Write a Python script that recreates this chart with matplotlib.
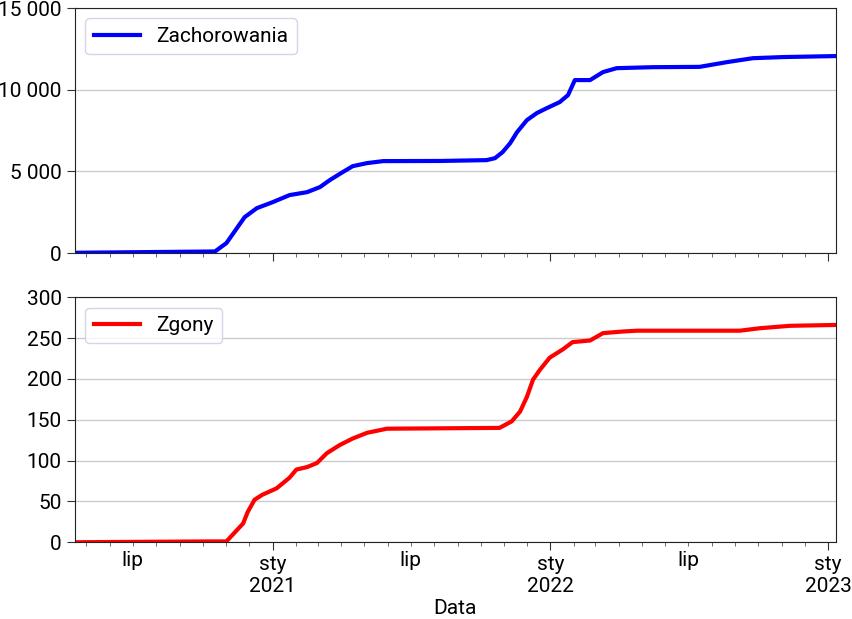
import pandas as pd
import matplotlib
matplotlib.use("Agg")
import matplotlib.pyplot as plt
import matplotlib.dates as mdates
from matplotlib.ticker import FuncFormatter

plt.rcParams['font.family'] = ['Roboto', 'DejaVu Sans']

# DATA (cumulative counts)
case_dates = [
    "2020-04-16", "2020-10-17", "2020-11-01", "2020-11-25", "2020-12-11",
    "2021-01-01", "2021-01-23", "2021-02-15", "2021-03-04", "2021-03-17",
    "2021-04-03", "2021-04-16", "2021-05-05", "2021-05-26", "2021-08-09",
    "2021-10-09", "2021-10-20", "2021-10-30", "2021-11-09", "2021-11-18",
    "2021-12-01", "2021-12-14", "2021-12-27", "2022-01-13", "2022-01-24",
    "2022-02-02", "2022-02-22", "2022-03-11", "2022-03-29", "2022-05-16",
    "2022-07-16", "2022-08-21", "2022-09-24", "2022-11-03", "2023-01-11",
]
cases = [
    20, 100, 610, 2200, 2750,
    3120, 3550, 3730, 4040, 4470,
    4960, 5320, 5510, 5630, 5640,
    5690, 5810, 6180, 6730, 7400,
    8140, 8570, 8870, 9240, 9670,
    10590, 10590, 11080, 11320, 11380,
    11400, 11690, 11930, 12000, 12060,
]

death_dates = [
    "2020-04-16", "2020-10-06", "2020-11-01", "2020-11-12", "2020-11-23",
    "2020-11-29", "2020-12-08", "2020-12-18", "2021-01-06", "2021-01-23",
    "2021-02-01", "2021-02-15", "2021-02-28", "2021-03-13", "2021-03-30",
    "2021-04-16", "2021-05-05", "2021-05-31", "2021-10-26", "2021-11-11",
    "2021-11-22", "2021-12-01", "2021-12-09", "2021-12-18", "2021-12-31",
    "2022-01-17", "2022-01-30", "2022-02-22", "2022-03-11", "2022-04-06",
    "2022-04-25", "2022-09-07", "2022-10-03", "2022-11-12", "2023-01-11",
]
deaths = [
    0, 1, 1, 12, 23,
    37, 52, 58, 66, 79,
    89, 92, 97, 109, 119,
    127, 134, 139, 140, 148,
    160, 178, 199, 211, 226,
    236, 245, 247, 256, 258,
    259, 259, 262, 265, 266,
]

case_dates = pd.to_datetime(case_dates)
death_dates = pd.to_datetime(death_dates)

pl_months = ["sty", "lut", "mar", "kwi", "maj", "cze",
             "lip", "sie", "wrz", "paź", "lis", "gru"]


def thousands(v, pos):
    return f"{int(v):,}".replace(",", " ")


def major_fmt(v, pos):
    d = mdates.num2date(v)
    return f"{pl_months[d.month - 1]}\n{d.year}"


def minor_fmt(v, pos):
    d = mdates.num2date(v)
    return pl_months[d.month - 1] if d.month == 7 else ""


fig, (ax1, ax2) = plt.subplots(2, 1, figsize=(8.52, 6.19), dpi=100, sharex=True)
fig.subplots_adjust(left=0.088, right=0.981, top=0.987, bottom=0.124, hspace=0.18)

ax1.plot(case_dates, cases, color="blue", linewidth=3, label="Zachorowania")
ax2.plot(death_dates, deaths, color="red", linewidth=3, label="Zgony")

ax1.set_ylim(0, 15000)
ax1.set_yticks([0, 5000, 10000, 15000])
ax1.yaxis.set_major_formatter(FuncFormatter(thousands))

ax2.set_ylim(0, 300)
ax2.set_yticks(range(0, 301, 50))

ax2.set_xlim(pd.Timestamp("2020-04-16"), pd.Timestamp("2023-01-11"))
ax2.xaxis.set_major_locator(mdates.YearLocator())
ax2.xaxis.set_minor_locator(mdates.MonthLocator())
ax2.xaxis.set_major_formatter(FuncFormatter(major_fmt))
ax2.xaxis.set_minor_formatter(FuncFormatter(minor_fmt))
ax2.set_xlabel("Data", fontsize=15, labelpad=2)

for ax in (ax1, ax2):
    ax.grid(axis="y", color="#cccccc", linewidth=1)
    ax.set_axisbelow(True)
    for s in ax.spines.values():
        s.set_color("#222222")
    ax.tick_params(axis="both", which="major", labelsize=15, length=6, color="#333333")
    ax.tick_params(axis="x", which="minor", labelsize=15, length=3, color="#555555")
    ax.legend(loc="upper left", fontsize=15, edgecolor="#c8c8e8", handlelength=2.2)

plt.setp(ax1.get_xticklabels(which="both"), visible=False)

fig.savefig("out.png", dpi=100)
